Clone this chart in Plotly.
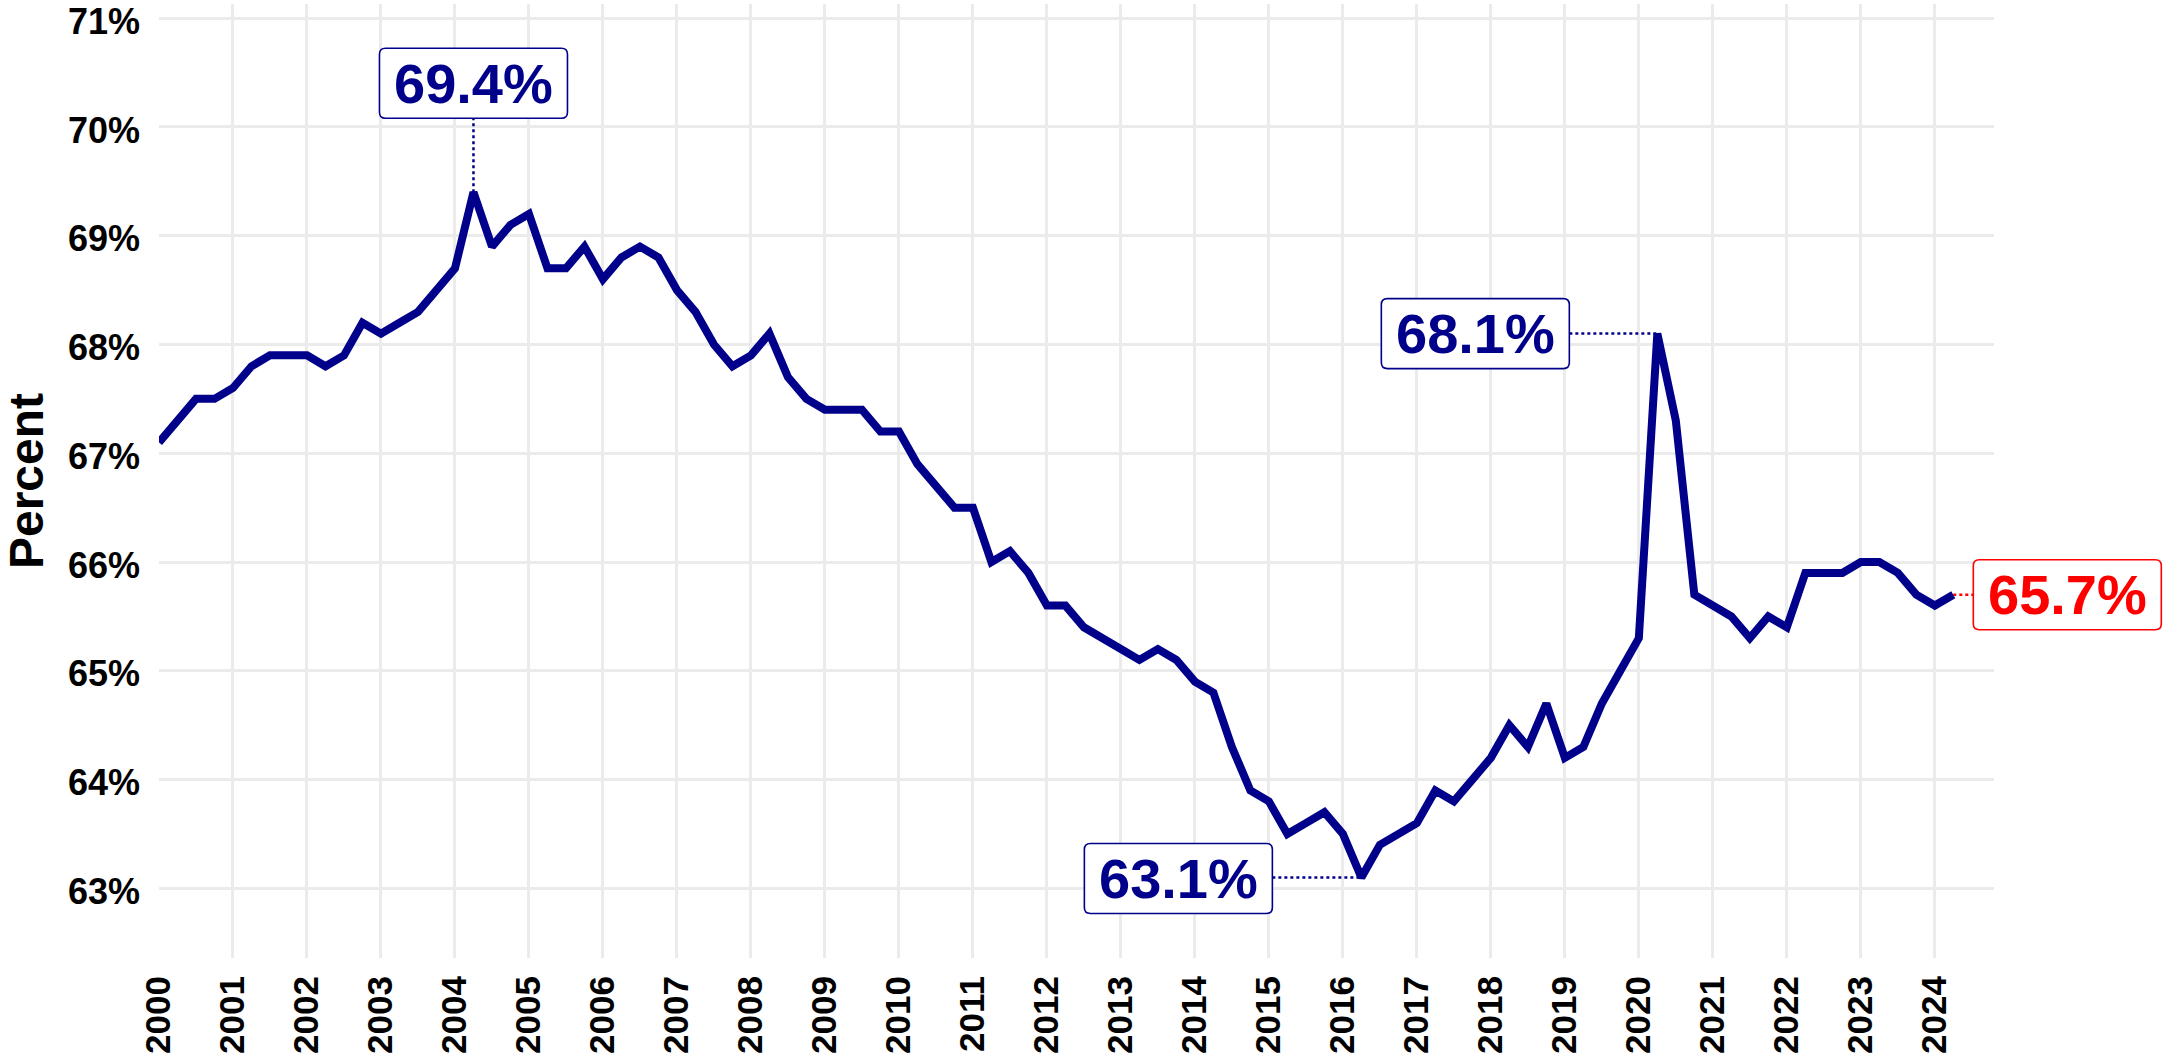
import plotly.graph_objects as go

# ---- data: quarterly homeownership rate (%) from 2000 Q1 ----
start_year = 2000
rate = [
    67.1, 67.3, 67.5, 67.5,   # 2000
    67.6, 67.8, 67.9, 67.9,   # 2001
    67.9, 67.8, 67.9, 68.2,   # 2002
    68.1, 68.2, 68.3, 68.5,   # 2003
    68.7, 69.4, 68.9, 69.1,   # 2004
    69.2, 68.7, 68.7, 68.9,   # 2005
    68.6, 68.8, 68.9, 68.8,   # 2006
    68.5, 68.3, 68.0, 67.8,   # 2007
    67.9, 68.1, 67.7, 67.5,   # 2008
    67.4, 67.4, 67.4, 67.2,   # 2009
    67.2, 66.9, 66.7, 66.5,   # 2010
    66.5, 66.0, 66.1, 65.9,   # 2011
    65.6, 65.6, 65.4, 65.3,   # 2012
    65.2, 65.1, 65.2, 65.1,   # 2013
    64.9, 64.8, 64.3, 63.9,   # 2014
    63.8, 63.5, 63.6, 63.7,   # 2015
    63.5, 63.1, 63.4, 63.5,   # 2016
    63.6, 63.9, 63.8, 64.0,   # 2017
    64.2, 64.5, 64.3, 64.7,   # 2018
    64.2, 64.3, 64.7, 65.0,   # 2019
    65.3, 68.1, 67.3, 65.7,   # 2020
    65.6, 65.5, 65.3, 65.5,   # 2021
    65.4, 65.9, 65.9, 65.9,   # 2022
    66.0, 66.0, 65.9, 65.7,   # 2023
    65.6, 65.7,               # 2024
]
year_ticks = list(range(2000, 2025))
pct_ticks = [63, 64, 65, 66, 67, 68, 69, 70, 71]

quarters = [start_year + i * 0.25 for i in range(len(rate))]

X_RANGE = [2000, 2024.8]
Y_RANGE = [62.36, 71.13]

LINE = "#00008B"
RED = "#FF0000"
FONT = "Liberation Sans, Arial, sans-serif"

fig = go.Figure()
fig.add_trace(go.Scatter(
    x=quarters, y=rate, mode="lines",
    line=dict(color=LINE, width=8),
    hoverinfo="skip", showlegend=False,
))

# key points
i_max = rate.index(max(rate))
i_min = rate.index(min(rate))
i_late = max(range(i_min, len(rate)), key=lambda i: rate[i])
i_last = len(rate) - 1

BOX_W, BOX_H, RAD = 188, 70, 6


def rrect(x0, x1, y0, y1, r):
    return (f"M {x0 + r},{y0} L {x1 - r},{y0} Q {x1},{y0} {x1},{y0 + r} "
            f"L {x1},{y1 - r} Q {x1},{y1} {x1 - r},{y1} L {x0 + r},{y1} "
            f"Q {x0},{y1} {x0},{y1 - r} L {x0},{y0 + r} Q {x0},{y0} {x0 + r},{y0} Z")


def to_paper(xv):
    return (xv - X_RANGE[0]) / (X_RANGE[1] - X_RANGE[0])


def label(i, color, cx, cy):
    """Rounded box centred cx, cy pixels (y up) from the data point i."""
    # paper x-reference so that boxes outside the plot area are not clipped
    fig.add_shape(type="path", xref="paper", yref="y",
                  xsizemode="pixel", ysizemode="pixel",
                  xanchor=to_paper(quarters[i]), yanchor=rate[i],
                  path=rrect(cx - BOX_W / 2, cx + BOX_W / 2, cy - BOX_H / 2, cy + BOX_H / 2, RAD),
                  fillcolor="white", line=dict(color=color, width=1.6), layer="above")
    fig.add_annotation(
        x=quarters[i], y=rate[i], xref="x", yref="y",
        text=f"{rate[i]:.1f}%", showarrow=False,
        font=dict(family=FONT, size=56, color=color, weight="bold"),
        xanchor="center", yanchor="middle", xshift=cx, yshift=cy)


def conn(i, color, x0, x1, y0, y1):
    fig.add_shape(type="line", xref="x", yref="y",
                  xsizemode="pixel", ysizemode="pixel",
                  xanchor=quarters[i], yanchor=rate[i],
                  x0=x0, x1=x1, y0=y0, y1=y1,
                  line=dict(color=color, width=2.5, dash="dot"), layer="between")


# peak 2004
conn(i_max, LINE, 0, 0, 0, 74)
label(i_max, LINE, 0, 74 + BOX_H / 2)
# 2020 spike
conn(i_late, LINE, -88, 0, 0, 0)
label(i_late, LINE, -88 - BOX_W / 2, 0)
# 2016 low
conn(i_min, LINE, -89, 0, 0, 0)
label(i_min, LINE, -89 - BOX_W / 2, -1)
# latest
conn(i_last, RED, 0, 20, 0, 0)
label(i_last, RED, 20 + BOX_W / 2, 0)

fig.update_layout(
    width=2168, height=1057,
    margin=dict(l=159, r=174, t=4, b=99, autoexpand=False),
    paper_bgcolor="white", plot_bgcolor="white",
    font=dict(family=FONT),
    xaxis=dict(
        range=X_RANGE, tickvals=year_ticks, ticktext=[str(y) for y in year_ticks],
        tickangle=-90, tickfont=dict(family=FONT, size=35, color="black", weight="bold"),
        showgrid=True, gridcolor="#EBEBEB",
        gridwidth=3, zeroline=False, showline=False, ticks="",
        ticklabelstandoff=10, automargin=False, ticklabeloverflow="allow",
    ),
    yaxis=dict(
        range=Y_RANGE, tickvals=pct_ticks, ticktext=[f"{v}%" for v in pct_ticks],
        tickfont=dict(family=FONT, size=36, color="black", weight="bold"),
        showgrid=True, gridcolor="#EBEBEB", gridwidth=3,
        zeroline=False, showline=False, ticks="", ticklabelstandoff=18, automargin=False,
        ticklabeloverflow="allow", ticklabelshift=3,
        title=dict(text="Percent", font=dict(family=FONT, size=48, color="black", weight="bold"),
                   standoff=9),
    ),
)

fig.write_html(
    "out.html",
    config={"displayModeBar": False},
    post_script="document.body.style.margin='0';document.body.style.overflow='hidden';",
)
